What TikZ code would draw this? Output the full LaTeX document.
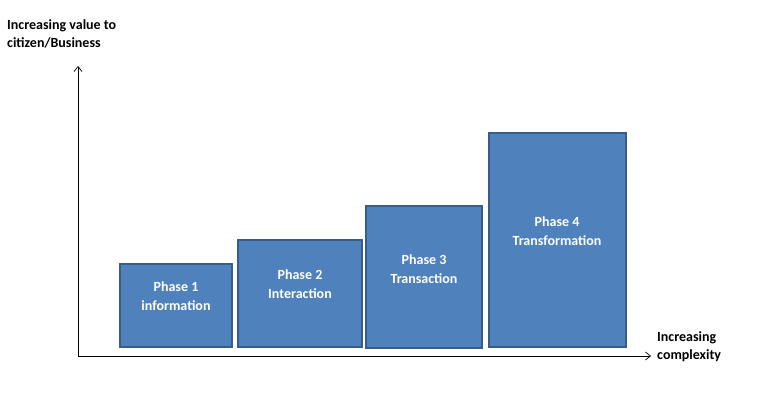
\documentclass[tikz,border=0pt]{standalone}
\usepackage{fontspec}
\setmainfont{Carlito}
\begin{document}
\begin{tikzpicture}[x=1pt,y=-1pt,
  box/.style={draw=boxline,fill=boxfill,line width=2pt},
  lbl/.style={text=white,font=\fontsize{14}{17}\selectfont\bfseries,align=center},
  ax/.style={draw=black,line width=0.7pt,-{Straight Barb[length=5pt,width=8pt]}},
  axl/.style={font=\fontsize{14}{17}\selectfont\bfseries,align=left}]
\usetikzlibrary{arrows.meta}
\definecolor{boxfill}{HTML}{4F81BD}
\definecolor{boxline}{HTML}{385D8A}
\useasboundingbox (0,0) rectangle (780,403);
\fill[white] (0,0) rectangle (780,403);
\coordinate (o) at (78,356);
\coordinate (yt) at (78,66);
\coordinate (xt) at (651,356);
\draw[ax] (o) -- (yt);
\draw[ax] (o) -- (xt);
\node[axl,anchor=north west,inner sep=0] (yl) at (7,19) {Increasing value to\\[1pt]citizen/Business};
\node[axl,anchor=north west,inner sep=0] (xl) at (657,331) {Increasing\\[1pt]complexity};
\draw[box] (120,264) rectangle (232,347);
\draw[box] (238,240) rectangle (362,347);
\draw[box] (366,206) rectangle (482,348);
\draw[box] (489,133) rectangle (626,347);
\node[lbl] (p1) at (176,296) {Phase 1\\[2pt]information};
\node[lbl] (p2) at (300,284) {Phase 2\\[2pt]Interaction};
\node[lbl] (p3) at (424,269) {Phase 3\\[2pt]Transaction};
\node[lbl] (p4) at (557,231) {Phase 4\\[2pt]Transformation};
\end{tikzpicture}
\end{document}
